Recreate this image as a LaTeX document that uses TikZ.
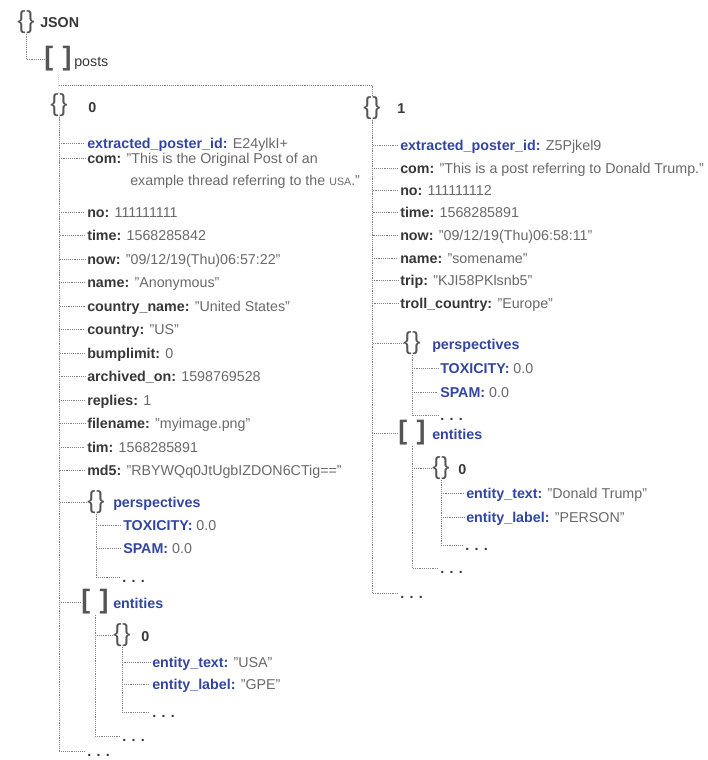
\documentclass[tikz,border=0pt]{standalone}
\usepackage{fontspec}
\setmainfont{Liberation Sans}

\definecolor{keyblue}{RGB}{50,70,160}
\definecolor{keydark}{RGB}{55,55,55}
\definecolor{valgray}{RGB}{105,105,105}
\definecolor{linegray}{RGB}{130,130,130}

\newcommand{\jbkey}[1]{\textcolor{keyblue}{\textbf{#1}}}
\newcommand{\jkey}[1]{\textcolor{keydark}{\textbf{#1}}}
\newcommand{\jval}[1]{\textcolor{valgray}{#1}}

\begin{document}
\begin{tikzpicture}
		[
		x=0.75pt, y=-0.75pt, font=\fontsize{10.7}{13}\selectfont,
		%Voreinstellung fuer Linien und Eintraege
		tree/.style={linegray, densely dotted, thin},
		entry/.style={anchor=west, inner sep=1.5pt, text height=7.7pt, text depth=0pt},
		curly/.style={inner sep=0pt, text=keydark!85, font=\fontsize{18.5}{18.5}\selectfont},
		square/.style={inner sep=0pt, text=keydark!85, font=\fontsize{20}{20}\bfseries},
		dots/.style={entry, font=\fontsize{10.7}{13}\bfseries, text=keydark}
		]
		
		\useasboundingbox (0,0) rectangle (707,760);
		
		%Wurzel und posts
		\node[curly] (json) at (26,22) {\{\hspace{0.5pt}\}};
		\node[entry] (jsonlbl) at (38,22) {\jkey{JSON}};
		\node[square] (posts) at (58,59) {[\hspace{7pt}]};
		\node[entry] (postslbl) at (72,61) {\textcolor{keydark}{posts}};
		\coordinate (gabel) at (59,85);
		\draw[tree] (json.south) |- (posts.west);
		
		%Post 0
		\node[curly] (obj0) at (59,105) {\{\hspace{0.5pt}\}};
		\node[entry] (obj0lbl) at (86,107) {\jkey{0}};
		\node[entry] (k0a) at (85,143) {\jbkey{extracted\_poster\_id:} \jval{E24ylkI+}};
		\node[entry] (k0b) at (85,158) {\jkey{com:} \jval{"This is the Original Post of an}};
		\node[entry] (k0c) at (128,180) {\jval{example thread referring to the {\fontsize{8}{10}\selectfont USA}."}};
		\node[entry] (k0d) at (85,212) {\jkey{no:} \jval{111111111}};
		\node[entry] (k0e) at (85,235.5) {\jkey{time:} \jval{1568285842}};
		\node[entry] (k0f) at (85,259) {\jkey{now:} \jval{"09/12/19(Thu)06:57:22"}};
		\node[entry] (k0g) at (85,282.5) {\jkey{name:} \jval{"Anonymous"}};
		\node[entry] (k0h) at (85,306) {\jkey{country\_name:} \jval{"United States"}};
		\node[entry] (k0i) at (85,329.5) {\jkey{country:} \jval{"US"}};
		\node[entry] (k0j) at (85,353) {\jkey{bumplimit:} \jval{0}};
		\node[entry] (k0k) at (85,376.5) {\jkey{archived\_on:} \jval{1598769528}};
		\node[entry] (k0l) at (85,400) {\jkey{replies:} \jval{1}};
		\node[entry] (k0m) at (85,423.5) {\jkey{filename:} \jval{"myimage.png"}};
		\node[entry] (k0n) at (85,447) {\jkey{tim:} \jval{1568285891}};
		\node[entry] (k0o) at (85,470.5) {\jkey{md5:} \jval{"RBYWQq0JtUgbIZDON6CTig=="}};
		\node[dots] (dots0) at (85,751) {. . .};
		
		%perspectives in Post 0
		\node[curly] (persp0) at (96,502) {\{\hspace{0.5pt}\}};
		\node[entry] (persp0lbl) at (111,502) {\jbkey{perspectives}};
		\node[entry] (tox0) at (121,525) {\jbkey{TOXICITY:} \jval{0.0}};
		\node[entry] (spam0) at (121,548) {\jbkey{SPAM:} \jval{0.0}};
		\node[dots] (pdots0) at (120,577) {. . .};
		
		%entities in Post 0
		\node[square] (ent0) at (95,602) {[\hspace{7pt}]};
		\node[entry] (ent0lbl) at (111,603) {\jbkey{entities}};
		\node[curly] (e0obj) at (122,635) {\{\hspace{0.5pt}\}};
		\node[entry] (e0lbl) at (139,636) {\jkey{0}};
		\node[entry] (e0text) at (150,662) {\jbkey{entity\_text:} \jval{"USA"}};
		\node[entry] (e0label) at (150,684) {\jbkey{entity\_label:} \jval{"GPE"}};
		\node[dots] (e0dots) at (150,712) {. . .};
		\node[dots] (entdots0) at (120,736) {. . .};
		
		%Post 1
		\node[curly] (obj1) at (372,108) {\{\hspace{0.5pt}\}};
		\node[entry] (obj1lbl) at (395,108) {\jkey{1}};
		\node[entry] (k1a) at (398,145) {\jbkey{extracted\_poster\_id:} \jval{Z5Pjkel9}};
		\node[entry] (k1b) at (398,168) {\jkey{com:} \jval{"This is a post referring to Donald Trump."}};
		\node[entry] (k1c) at (398,190) {\jkey{no:} \jval{111111112}};
		\node[entry] (k1d) at (398,212.5) {\jkey{time:} \jval{1568285891}};
		\node[entry] (k1e) at (398,235) {\jkey{now:} \jval{"09/12/19(Thu)06:58:11"}};
		\node[entry] (k1f) at (398,258) {\jkey{name:} \jval{"somename"}};
		\node[entry] (k1g) at (398,280.5) {\jkey{trip:} \jval{"KJI58PKlsnb5"}};
		\node[entry] (k1h) at (398,303) {\jkey{troll\_country:} \jval{"Europe"}};
		\node[dots] (dots1) at (398,593) {. . .};
		
		%perspectives in Post 1
		\node[curly] (persp1) at (412,343) {\{\hspace{0.5pt}\}};
		\node[entry] (persp1lbl) at (430,344) {\jbkey{perspectives}};
		\node[entry] (tox1) at (438,368) {\jbkey{TOXICITY:} \jval{0.0}};
		\node[entry] (spam1) at (438,392) {\jbkey{SPAM:} \jval{0.0}};
		\node[dots] (pdots1) at (438,415) {. . .};
		
		%entities in Post 1
		\node[square] (ent1) at (412,433) {[\hspace{7pt}]};
		\node[entry] (ent1lbl) at (430,434) {\jbkey{entities}};
		\node[curly] (e1obj) at (441,468) {\{\hspace{0.5pt}\}};
		\node[entry] (e1lbl) at (456,469) {\jkey{0}};
		\node[entry] (e1text) at (464,493) {\jbkey{entity\_text:} \jval{"Donald Trump"}};
		\node[entry] (e1label) at (464,517) {\jbkey{entity\_label:} \jval{"PERSON"}};
		\node[dots] (e1dots) at (463,545) {. . .};
		\node[dots] (entdots1) at (438,568) {. . .};
		
		%Verbindungen
		\draw[tree] (posts.south) -- (obj0.north);
		\draw[tree] (gabel) -| (obj1.north);
		\foreach \k in {k0a,k0b,k0d,k0e,k0f,k0g,k0h,k0i,k0j,k0k,k0l,k0m,k0n,k0o,persp0,ent0,dots0}
		\draw[tree] (obj0.south) |- (\k.west);
		\foreach \k in {tox0,spam0,pdots0}
		\draw[tree] (persp0.south) |- (\k.west);
		\draw[tree] (ent0.south) |- (e0obj.west);
		\draw[tree] (ent0.south) |- (entdots0.west);
		\foreach \k in {e0text,e0label,e0dots}
		\draw[tree] (e0obj.south) |- (\k.west);
		
		\foreach \k in {k1a,k1b,k1c,k1d,k1e,k1f,k1g,k1h,persp1,ent1,dots1}
		\draw[tree] (obj1.south) |- (\k.west);
		\foreach \k in {tox1,spam1,pdots1}
		\draw[tree] (persp1.south) |- (\k.west);
		\draw[tree] (ent1.south) |- (e1obj.west);
		\draw[tree] (ent1.south) |- (entdots1.west);
		\foreach \k in {e1text,e1label,e1dots}
		\draw[tree] (e1obj.south) |- (\k.west);
		
	\end{tikzpicture}
\end{document}
